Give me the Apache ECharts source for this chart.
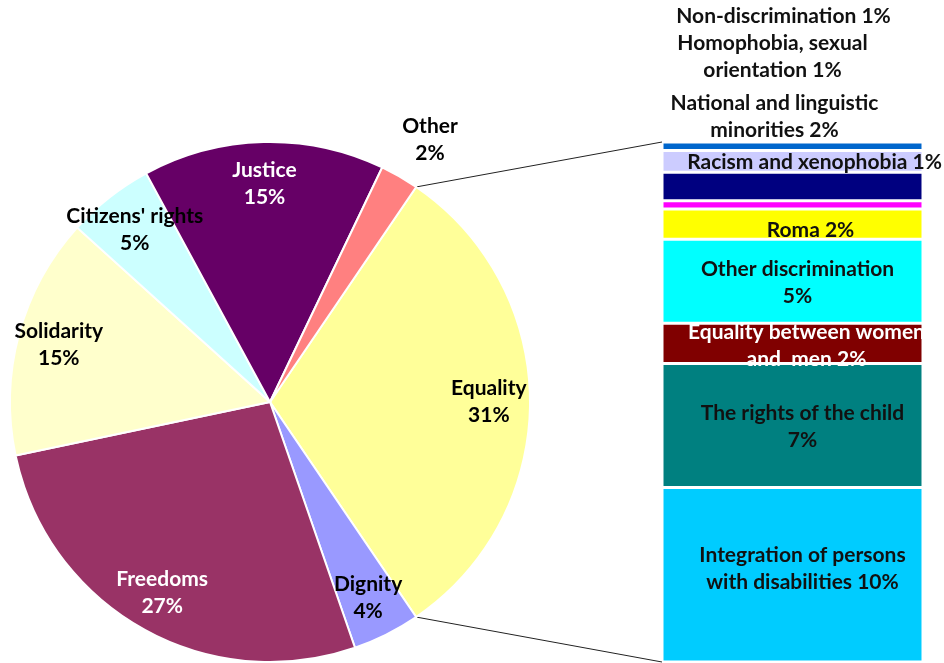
<!DOCTYPE html>
<html>
<head>
<meta charset="utf-8">
<title>Complaints by chapter</title>
<script src="https://cdn.jsdelivr.net/npm/echarts@6/dist/echarts.min.js"></script>
<style>
  html, body { margin: 0; padding: 0; background: #fff; }
  #main { width: 944px; height: 663px; }
</style>
</head>
<body>
<div id="main"></div>
<script>
// pie: share of all complaints (%), clockwise starting with Equality
var pieNames = ['Equality', 'Dignity', 'Freedoms', 'Solidarity', "Citizens' rights", 'Justice', 'Other'];
var pieValues = [31, 4.2, 27, 15, 5.4, 15, 2.4];
var pieColors = ['#FFFF99', '#9999FF', '#993366', '#FFFFCC', '#CCFFFF', '#660066', '#FF8080'];
var pieLabelColors = ['#000', '#000', '#fff', '#000', '#000', '#fff', '#000'];

// bar: Equality split into its parts (%), top to bottom
var barNames = ['Non-discrimination', 'Racism and xenophobia', 'National and linguistic minorities',
  'Homophobia, sexual orientation', 'Roma', 'Other discrimination', 'Equality between women and men',
  'The rights of the child', 'Integration of persons with disabilities'];
var barValues = [0.5, 1.3, 1.7, 0.5, 1.8, 5.0, 2.4, 7.4, 10.4];
// label text, {v} is replaced by the rounded value
var barLabels = ['Non-discrimination {v}%', 'Racism and xenophobia {v}%', 'National and linguistic\nminorities {v}%',
  'Homophobia, sexual\norientation {v}%', 'Roma {v}%', 'Other discrimination\n{v}%', 'Equality between women\nand  men {v}%',
  'The rights of the child\n{v}%', 'Integration of persons\nwith disabilities {v}%'];
var barColors = ['#0066CC', '#CCCCFF', '#000080', '#FF00FF', '#FFFF00', '#00FFFF', '#800000', '#008080', '#00CCFF'];
var barLabelColors = ['#111', '#111', '#111', '#111', '#111', '#111', '#fff', '#111', '#111'];
var barLabelOffsets = [[-9, -130], [22, 1], [-18, -70], [-20, -148], [18, 6], [5, 2], [14, 2], [10, 1], [10, -6]];

var FONT = 'Lato';
var FONT_SIZE = 21;
var cx = 270, cy = 402, r = 260;
var gridLeft = 662, gridTop = 142, gridRight = 21, gridBottom = 1;

var pieTotal = pieValues.reduce(function (a, b) { return a + b; }, 0);
var barTotal = barValues.reduce(function (a, b) { return a + b; }, 0);
// Equality is centred on 3 o'clock
var startAngle = pieValues[0] / pieTotal * 180;
var halfRad = startAngle * Math.PI / 180;

function pieData(labelFn) {
  return pieNames.map(function (n, i) {
    var d = { name: n, value: pieValues[i], itemStyle: { color: pieColors[i] } };
    if (labelFn) {
      d.itemStyle = { color: 'rgba(0,0,0,0)', borderWidth: 0 };
      d.label = labelFn(i);
    }
    return d;
  });
}

function pieLabelText(p) {
  return p.name + '\n' + Math.round(p.value) + '%';
}

var barSeries = barValues.map(function (v, i) {
  return {
    type: 'bar',
    name: barNames[i],
    stack: 'equality',
    barWidth: '100%',
    silent: true,
    data: [v],
    itemStyle: { color: barColors[i], borderColor: '#fff', borderWidth: 1.5 },
    label: {
      show: true,
      position: 'inside',
      formatter: barLabels[i].replace('{v}', Math.round(v)),
      color: barLabelColors[i],
      offset: barLabelOffsets[i],
      fontFamily: FONT,
      fontWeight: 'bold',
      fontSize: FONT_SIZE,
      lineHeight: 27
    }
  };
});

var myChart = echarts.init(document.getElementById('main'));
myChart.setOption({
  animation: false,
  grid: { left: gridLeft, top: gridTop, right: gridRight, bottom: gridBottom },
  xAxis: { type: 'category', data: ['Equality'], show: false },
  yAxis: { type: 'value', inverse: true, min: 0, max: barTotal, show: false },
  graphic: [
    {
      type: 'line',
      shape: { x1: cx + r * Math.cos(halfRad), y1: cy - r * Math.sin(halfRad), x2: gridLeft, y2: gridTop },
      style: { stroke: '#222', lineWidth: 1 }
    },
    {
      type: 'line',
      shape: { x1: cx + r * Math.cos(halfRad), y1: cy + r * Math.sin(halfRad), x2: gridLeft, y2: 663 - gridBottom },
      style: { stroke: '#222', lineWidth: 1 }
    }
  ],
  series: [
    {
      type: 'pie',
      center: [cx, cy],
      radius: r,
      startAngle: startAngle,
      silent: true,
      label: { show: false },
      labelLine: { show: false },
      itemStyle: { borderColor: '#fff', borderWidth: 2 },
      data: pieData()
    },
    // transparent ring, only for the inside labels
    {
      type: 'pie',
      center: [cx, cy],
      radius: [r * 0.66, r],
      startAngle: startAngle,
      silent: true,
      labelLine: { show: false },
      data: pieData(function (i) {
        return {
          show: pieNames[i] !== 'Other',
          position: 'inside',
          formatter: pieLabelText,
          color: pieLabelColors[i],
          fontFamily: FONT,
          fontWeight: 'bold',
          fontSize: FONT_SIZE,
          lineHeight: 27
        };
      })
    },
    // ring outside the pie for the small "Other" label
    {
      type: 'pie',
      center: [cx, cy],
      radius: [r * 1.0, r * 1.34],
      startAngle: startAngle - 1.5,
      silent: true,
      labelLine: { show: false },
      data: pieData(function (i) {
        return {
          show: pieNames[i] === 'Other',
          position: 'inside',
          formatter: pieLabelText,
          color: pieLabelColors[i],
          fontFamily: FONT,
          fontWeight: 'bold',
          fontSize: FONT_SIZE,
          lineHeight: 27
        };
      })
    }
  ].concat(barSeries)
});
</script>
</body>
</html>
